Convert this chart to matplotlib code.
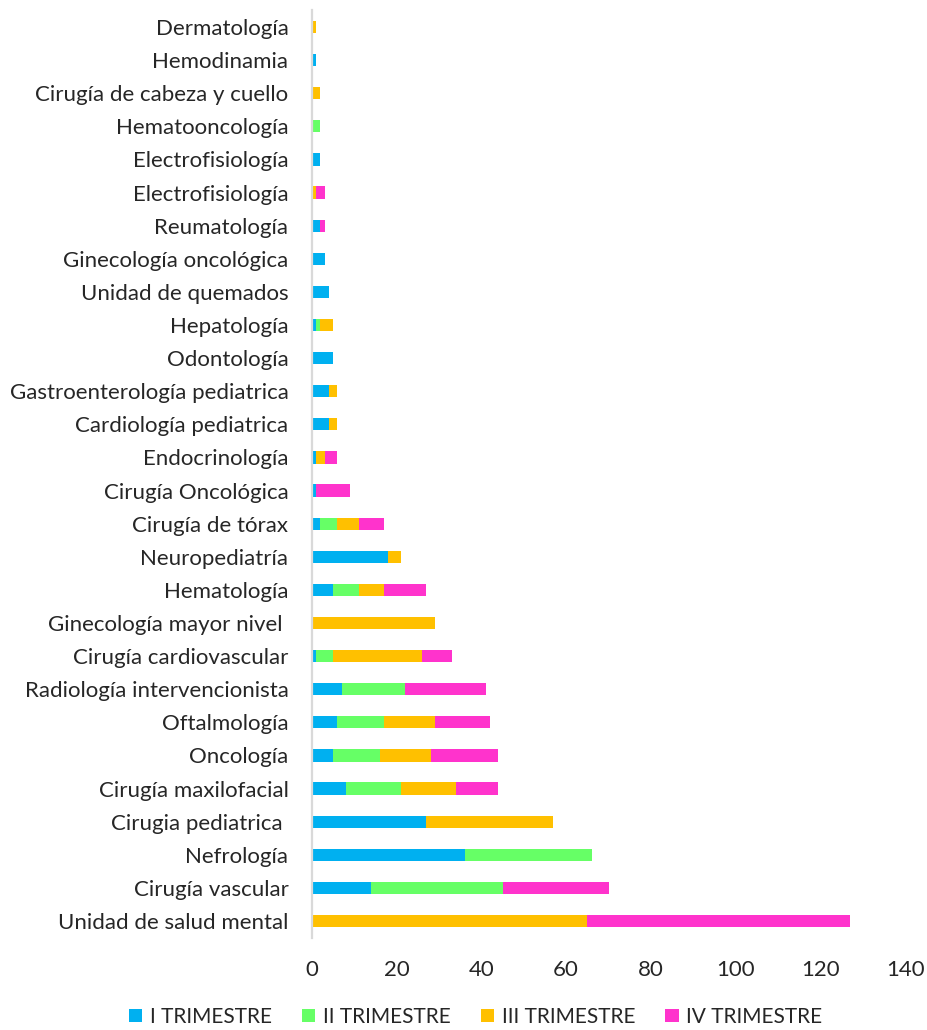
import numpy as np
import matplotlib.pyplot as plt

plt.rcParams['font.family'] = ['Lato', 'DejaVu Sans']

# servicios, de arriba hacia abajo
servicios = [
    "Dermatología", "Hemodinamia", "Cirugía de cabeza y cuello", "Hematooncología",
    "Electrofisiología", "Electrofisiología", "Reumatología", "Ginecología oncológica",
    "Unidad de quemados", "Hepatología", "Odontología", "Gastroenterología pediatrica",
    "Cardiología pediatrica", "Endocrinología", "Cirugía Oncológica", "Cirugía de tórax",
    "Neuropediatría", "Hematología", "Ginecología mayor nivel ", "Cirugía cardiovascular",
    "Radiología intervencionista", "Oftalmología", "Oncología", "Cirugía maxilofacial",
    "Cirugia pediatrica ", "Nefrología", "Cirugía vascular", "Unidad de salud mental",
]

trim_1 = [0, 1, 0, 0, 2, 0, 2, 3, 4, 1, 5, 4, 4, 1, 1, 2, 18, 5, 0, 1, 7, 6, 5, 8, 27, 36, 14, 0]
trim_2 = [0, 0, 0, 2, 0, 0, 0, 0, 0, 1, 0, 0, 0, 0, 0, 4, 0, 6, 0, 4, 15, 11, 11, 13, 0, 30, 31, 0]
trim_3 = [1, 0, 2, 0, 0, 1, 0, 0, 0, 3, 0, 2, 2, 2, 0, 5, 3, 6, 29, 21, 0, 12, 12, 13, 30, 0, 0, 65]
trim_4 = [0, 0, 0, 0, 0, 2, 1, 0, 0, 0, 0, 0, 0, 3, 8, 6, 0, 10, 0, 7, 19, 13, 16, 10, 0, 0, 25, 62]

series = ["I TRIMESTRE", "II TRIMESTRE", "III TRIMESTRE", "IV TRIMESTRE"]
colores = ["#00B0F0", "#66FF66", "#FFC000", "#FF33CC"]

fig = plt.figure(figsize=(9.27, 10.30), dpi=100)
ax = fig.add_axes([0.3366, 0.0897, 0.6397, 0.9002])

y = np.arange(len(servicios))
izq = np.zeros(len(servicios))
for nombre, valores, color in zip(series, [trim_1, trim_2, trim_3, trim_4], colores):
    ax.barh(y, valores, left=izq, height=0.37, color=color, label=nombre)
    izq += np.array(valores)

ax.set_yticks(y)
ax.set_yticklabels(servicios, fontsize=16, color="#262626")
ax.set_ylim(len(servicios) - 0.5, -0.5)

ax.set_xlim(0, 140)
ax.set_xticks(range(0, 141, 20))
ax.tick_params(axis="x", length=0, pad=16, labelsize=16, labelcolor="#262626")
ax.tick_params(axis="y", length=0, pad=17)

for lado in ["top", "right", "bottom"]:
    ax.spines[lado].set_visible(False)
ax.spines["left"].set_color("#d9d9d9")
ax.spines["left"].set_linewidth(1.6)

fig.legend(loc="lower center", bbox_to_anchor=(0.513, -0.007), ncol=4, frameon=False,
           fontsize=15, handlelength=0.65, handleheight=0.65, handletextpad=0.35,
           columnspacing=1.45, borderpad=0, labelcolor="#262626")

fig.savefig("out.png", dpi=100)
